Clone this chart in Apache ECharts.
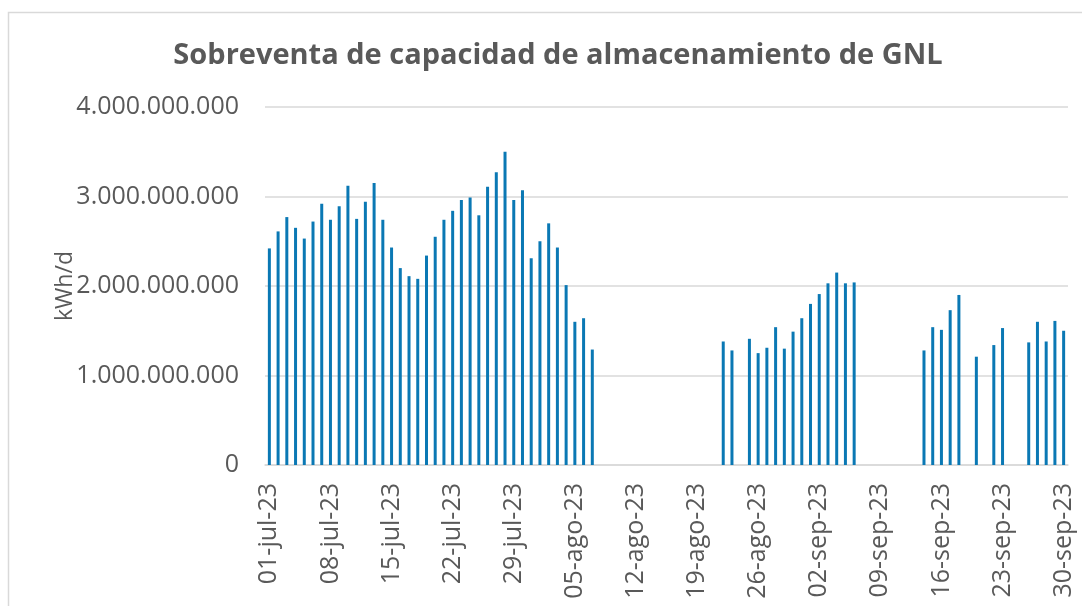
<!DOCTYPE html>
<html>
<head>
<meta charset="utf-8">
<script src="https://cdn.jsdelivr.net/npm/echarts@6/dist/echarts.min.js"></script>
<style>
  html, body { margin: 0; padding: 0; background: #fff; }
  #chart { width: 1082px; height: 606px; }
</style>
</head>
<body>
<div id="chart"></div>
<script>
// meses del periodo y días de cada uno
const months = ["jul", "ago", "sep"];
const monthDays = [31, 31, 30];

// etiquetas de categoría: 01-jul-23 ... 30-sep-23
const dates = [];
months.forEach(function (m, i) {
  for (let d = 1; d <= monthDays[i]; d++) {
    dates.push((d < 10 ? "0" + d : "" + d) + "-" + m + "-23");
  }
});

// sobreventa diaria (kWh/d), null = sin dato
const julio = [
  2.42e9, 2.61e9, 2.77e9, 2.65e9, 2.53e9, 2.72e9, 2.92e9, 2.74e9, 2.89e9, 3.12e9,
  2.75e9, 2.94e9, 3.15e9, 2.74e9, 2.43e9, 2.20e9, 2.11e9, 2.08e9, 2.34e9, 2.55e9,
  2.74e9, 2.84e9, 2.96e9, 2.99e9, 2.79e9, 3.11e9, 3.27e9, 3.50e9, 2.96e9, 3.07e9,
  2.31e9
];
const agosto = [
  2.50e9, 2.70e9, 2.43e9, 2.01e9, 1.60e9, 1.64e9, 1.29e9, null, null, null,
  null, null, null, null, null, null, null, null, null, null,
  null, 1.38e9, 1.28e9, null, 1.41e9, 1.25e9, 1.31e9, 1.54e9, 1.30e9, 1.49e9,
  1.64e9
];
const septiembre = [
  1.80e9, 1.91e9, 2.03e9, 2.15e9, 2.03e9, 2.04e9, null, null, null, null,
  null, null, null, 1.28e9, 1.54e9, 1.51e9, 1.73e9, 1.90e9, null, 1.21e9,
  null, 1.34e9, 1.53e9, null, null, 1.37e9, 1.60e9, 1.38e9, 1.61e9, 1.50e9
];
const values = julio.concat(agosto, septiembre);

const yTicks = [0, 1e9, 2e9, 3e9, 4e9];

// formato con puntos de miles
function miles(v) {
  return String(Math.round(v)).replace(/\B(?=(\d{3})+(?!\d))/g, ".");
}

const myChart = echarts.init(document.getElementById("chart"));
myChart.setOption({
  backgroundColor: "#fff",
  textStyle: { fontFamily: "Open Sans" },
  animation: false,
  title: {
    text: "Sobreventa de capacidad de almacenamiento de GNL",
    left: 553,
    top: 36,
    textAlign: "center",
    textStyle: { color: "#595959", fontSize: 29, fontWeight: "bold", fontFamily: "Open Sans" }
  },
  // marco del gráfico
  graphic: [{
    type: "rect",
    silent: true,
    shape: { x: 8.5, y: 12.5, width: 1200, height: 700 },
    style: { fill: "none", stroke: "#d9d9d9", lineWidth: 1.5 }
  }],
  grid: { left: 265, right: 14, top: 107, bottom: 141 },
  xAxis: {
    type: "category",
    data: dates,
    axisLine: { lineStyle: { color: "#d9d9d9", width: 1.5 } },
    axisTick: { show: false },
    axisLabel: {
      interval: 6,
      rotate: 90,
      margin: 18,
      color: "#595959",
      fontSize: 25,
      fontFamily: "Open Sans"
    }
  },
  yAxis: {
    type: "value",
    min: yTicks[0],
    max: yTicks[yTicks.length - 1],
    interval: 1e9,
    name: "kWh/d",
    nameLocation: "middle",
    nameRotate: 90,
    nameGap: 188,
    nameMoveOverlap: false,
    nameTextStyle: { color: "#595959", fontSize: 23, fontFamily: "Open Sans" },
    axisLine: { show: false },
    axisTick: { show: false },
    splitLine: { lineStyle: { color: "#d9d9d9", width: 1.5 } },
    axisLabel: {
      margin: 26,
      color: "#595959",
      fontSize: 25,
      fontFamily: "Open Sans",
      formatter: function (v) { return miles(v); }
    }
  },
  series: [{
    name: "Sobreventa",
    type: "bar",
    data: values,
    barWidth: 3,
    itemStyle: { color: "#0a78b4" }
  }]
});
</script>
</body>
</html>
